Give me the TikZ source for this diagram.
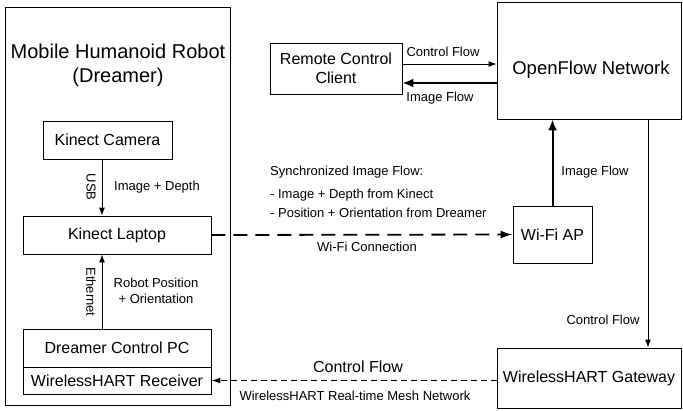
\documentclass[tikz,border=0pt]{standalone}
\usepackage{fontspec}
\setmainfont{Liberation Sans}
\usetikzlibrary{arrows.meta}
\begin{document}
\begin{tikzpicture}[x=1pt,y=-1pt,
  box/.style={draw, line width=0.9pt, inner sep=0pt, align=center, font=\fontsize{16}{19}\selectfont},
  lbl/.style={inner sep=0pt, align=center, font=\fontsize{13}{16}\selectfont},
  biglbl/.style={inner sep=0pt, align=center, font=\fontsize{16}{19}\selectfont},
  thinarrow/.style={line width=0.9pt, -{Latex[length=8pt,width=6pt]}},
  thickarrow/.style={line width=2pt, -{Latex[length=11pt,width=9pt]}},
  wifiarrow/.style={line width=1.8pt, dash pattern=on 14pt off 8pt, -{Latex[length=12pt,width=8pt]}},
  hartarrow/.style={line width=1pt, dash pattern=on 6pt off 4pt, -{Latex[length=9pt,width=6pt]}}
  ]
\useasboundingbox (0,0) rectangle (683,410);
\fill[white] (0,0) rectangle (683,410);

% robot container
\node[draw, line width=0.9pt, minimum width=225pt, minimum height=398pt, inner sep=0pt] (robot) at (117.5,206) {};
\node[inner sep=0pt, align=center, font=\fontsize{20}{24}\selectfont] (title) at (118,65) {Mobile Humanoid Robot\\(Dreamer)};

% boxes inside robot
\node[box, minimum width=129pt, minimum height=38pt] (cam) at (107.5,140) {Kinect Camera};
\node[box, minimum width=188pt, minimum height=38pt] (lap) at (117,235) {Kinect Laptop};
\node[box, minimum width=188pt, minimum height=38pt] (pc) at (117,348) {Dreamer Control PC};
\node[box, minimum width=188pt, minimum height=27pt] (rcv) at (117,380.5) {WirelessHART Receiver};

% right-side boxes
\node[box, minimum width=132pt, minimum height=51pt] (rc) at (336,68.5) {Remote Control\\Client};
\node[box, minimum width=184pt, minimum height=117pt] (of) at (589,60.5) {};
\node[inner sep=0pt, font=\fontsize{18.5}{22}\selectfont] (oftext) at (591,70) {OpenFlow Network};
\node[box, minimum width=79pt, minimum height=57pt] (wifi) at (552.5,234.5) {Wi-Fi AP};
\node[box, minimum width=184pt, minimum height=60pt] (gw) at (589,378) {WirelessHART Gateway};

% helper coordinates
\coordinate (ax) at (102,0);
\coordinate (cfy) at (0,64);
\coordinate (ify) at (0,83);
\coordinate (dx) at (648,0);

% connectors
\draw[thinarrow] (ax |- cam.south) -- (ax |- lap.north);
\draw[thinarrow] (ax |- pc.north) -- (ax |- lap.south);
\draw[thinarrow] (rc.east |- cfy) -- (of.west |- cfy);
\draw[thickarrow] (of.west |- ify) -- (rc.east |- ify);
\draw[thickarrow] (wifi.north) -- (wifi.north |- of.south);
\draw[thinarrow] (dx |- of.south) -- (dx |- gw.north);
\draw[wifiarrow] (lap.east) -- (wifi.west);
\draw[hartarrow] (gw.west |- rcv.east) -- (rcv.east);

% labels
\node[lbl, rotate=-90] (usb) at (91,187) {USB};
\node[lbl] (imgdepth) at (157,187) {Image + Depth};
\node[lbl, rotate=-90] (eth) at (91,292) {Ethernet};
\node[lbl] (robpos) at (156,291) {Robot Position\\+ Orientation};
\node[lbl] (cftop) at (443,52) {Control Flow};
\node[lbl] (iftop) at (440,98) {Image Flow};
\node[lbl] (ifright) at (595,172) {Image Flow};
\node[lbl, anchor=west] (sync) at (270,172) {Synchronized Image Flow:};
\node[lbl, anchor=west] (sync1) at (270,195) {- Image + Depth from Kinect};
\node[lbl, anchor=west] (sync2) at (270,213) {- Position + Orientation from Dreamer};
\node[lbl] (wificonn) at (367,247) {Wi-Fi Connection};
\node[lbl] (cfright) at (603,320) {Control Flow};
\node[biglbl] (cfbottom) at (358,367) {Control Flow};
\node[lbl] (mesh) at (355,396) {WirelessHART Real-time Mesh Network};
\end{tikzpicture}
\end{document}
